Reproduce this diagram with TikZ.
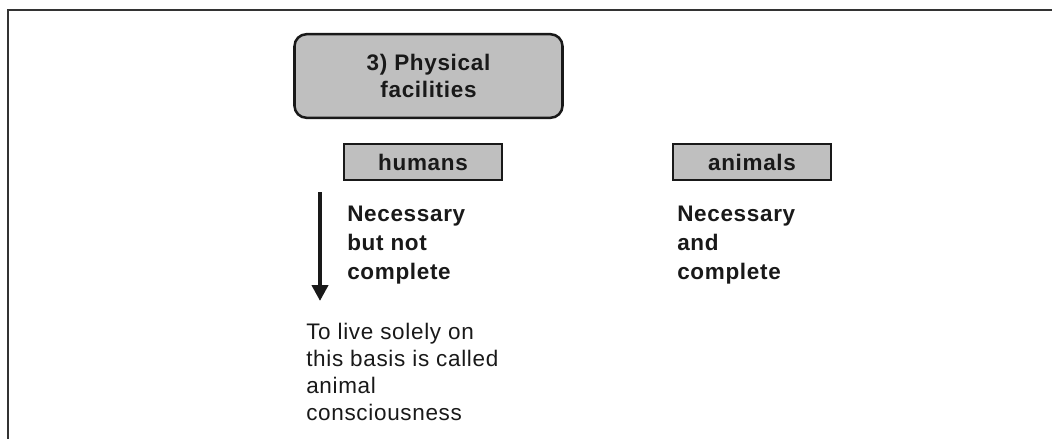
\documentclass[tikz,border=0pt]{standalone}
\usepackage{fontspec}
\setmainfont{Liberation Sans}[LetterSpace=3]
\usetikzlibrary{arrows.meta}

\begin{document}
\begin{tikzpicture}[x=0.25mm,y=-0.25mm,
        headbox/.style={draw=black!90, line width=1.8pt, fill=gray!50, rounded corners=0.3cm,
            minimum width=6.7cm, minimum height=2.09cm, align=center, text=black!90,
            font=\bfseries\fontsize{16}{19}\selectfont},
        catbox/.style={draw=black!90, line width=1.8pt, fill=gray!50, inner sep=0pt,
            minimum width=3.94cm, minimum height=0.89cm, text=black!90,
            font=\bfseries\fontsize{16}{19}\selectfont},
        boldnote/.style={anchor=north west, inner sep=0pt, align=left, text=black!90,
            font=\bfseries\fontsize{16}{20.6}\selectfont},
        plainnote/.style={anchor=north west, inner sep=0pt, align=left, text=black!90,
            font=\fontsize{16}{19.2}\selectfont}]
    \useasboundingbox (0,0) rectangle (1052,439);

    % outer frame
    \draw[black!80, line width=1.6pt] (1052,10) -- (8,10) -- (8,439);

    % heading
    \node[headbox] (physical) at (428.5,76) {3) Physical\\facilities};

    % the two groups
    \node[catbox] (humans) at (423,162) {humans};
    \node[catbox] (animals) at (752,162) {animals};

    \node[boldnote] (humnote) at (347,206) {Necessary\\but not\\complete};
    \node[boldnote] (animnote) at (677,206) {Necessary\\and\\complete};

    % draw arrow
    \coordinate (arrtop) at (320,192);
    \coordinate (arrtip) at (320,301);
    \draw[black!90, line width=3.5pt, -{Triangle[length=0.4cm,width=0.4cm]}] (arrtop) -- (arrtip);

    \node[plainnote] (conscious) at (306,323) {To live solely on\\this basis is called\\animal\\consciousness};
\end{tikzpicture}
\end{document}
